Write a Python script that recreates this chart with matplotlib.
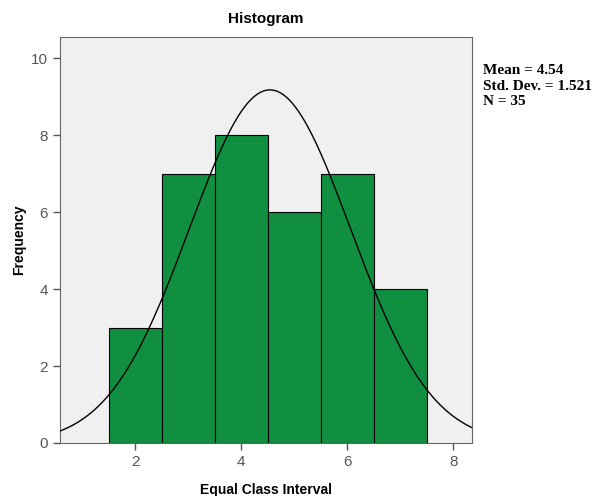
import matplotlib
matplotlib.use("Agg")
import matplotlib.pyplot as plt
import numpy as np

# Datos del histograma
bordes = [1.5, 2.5, 3.5, 4.5, 5.5, 6.5, 7.5]
frecuencias = [3, 7, 8, 6, 7, 4]
media = 4.54
desvio = 1.521
n = 35

fig = plt.figure(figsize=(6.03, 4.96), dpi=100)
ax = fig.add_axes([0.0995, 0.107, 0.684, 0.818])
ax.set_facecolor("#f0f0f0")

anchos = np.diff(bordes)
ax.bar(bordes[:-1], frecuencias, width=anchos, align="edge",
       color="#0f8f3f", edgecolor="black", linewidth=0.8, zorder=2)

# Curva normal escalada
xs = np.linspace(0.58, 8.36, 400)
ys = n * anchos[0] * np.exp(-0.5 * ((xs - media) / desvio) ** 2) / (desvio * np.sqrt(2 * np.pi))
ax.plot(xs, ys, color="black", linewidth=1.0, zorder=3)

ax.set_xlim(0.58, 8.36)
ax.set_ylim(0, 10.55)
ax.set_xticks([2, 4, 6, 8])
ax.set_yticks([0, 2, 4, 6, 8, 10])
ax.tick_params(colors="#555555", labelsize=11, length=5, width=1)
for s in ax.spines.values():
    s.set_color("#666666")

fuente = "Liberation Sans"
for lab in ax.get_xticklabels() + ax.get_yticklabels():
    lab.set_fontfamily(fuente)
    lab.set_color("#555555")

ax.set_title("Histogram", fontsize=11, fontweight="bold", family=fuente, pad=10)
ax.set_xlabel("Equal Class Interval", fontsize=10, fontweight="bold", family=fuente, labelpad=10)
ax.set_ylabel("Frequency", fontsize=10, fontweight="bold", family=fuente, labelpad=4)

fig.text(0.801, 0.87, "Mean = %.2f\nStd. Dev. = %.3f\nN = %d" % (media, desvio, n),
         fontsize=11, fontweight="bold", family="Liberation Serif",
         va="top", ha="left", linespacing=1.22)

fig.savefig("out.png", dpi=100)
